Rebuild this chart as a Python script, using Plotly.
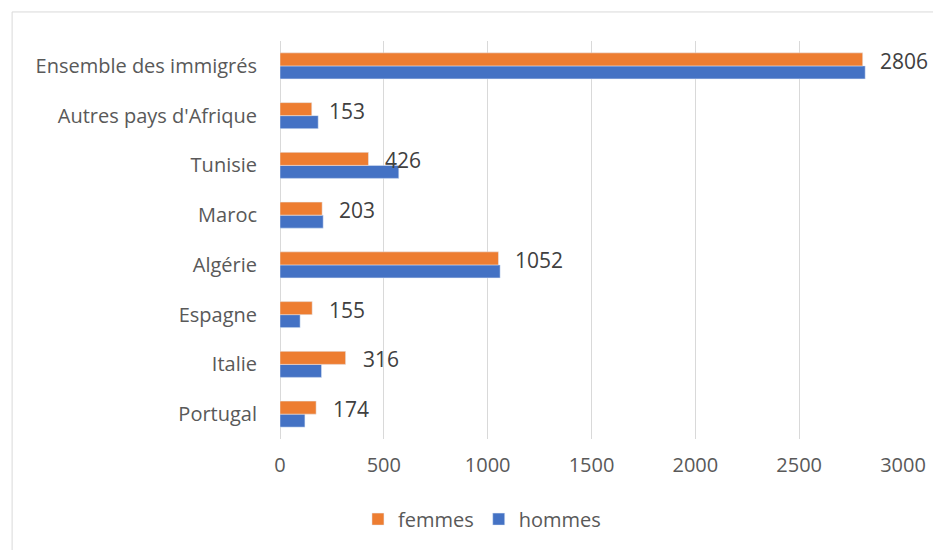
import plotly.graph_objects as go

categories = ["Portugal", "Italie", "Espagne", "Algérie", "Maroc", "Tunisie",
              "Autres pays d'Afrique", "Ensemble des immigrés"]
femmes = [174, 316, 155, 1052, 203, 426, 153, 2806]
hommes = [120, 200, 97, 1060, 208, 572, 184, 2818]

FONT = "Open Sans"

fig = go.Figure()
fig.add_trace(go.Bar(name="hommes", y=categories, x=hommes, orientation="h",
                     marker_color="#4472C4", legendrank=2))
fig.add_trace(go.Bar(name="femmes", y=categories, x=femmes, orientation="h",
                     marker_color="#ED7D31", legendrank=1))

# value labels on the femmes bars
for cat, val in zip(categories, femmes):
    fig.add_annotation(x=val, y=cat, text=str(val), showarrow=False,
                       xanchor="left", yanchor="middle", xshift=15, yshift=5,
                       font=dict(family=FONT, size=21, color="#404040"))

# light chart border
fig.add_shape(type="rect", xref="paper", yref="paper",
              x0=-0.43, x1=1.1, y0=-0.4, y1=1.073,
              line=dict(color="#d9d9d9", width=1), layer="below")

fig.update_layout(
    width=933, height=542,
    margin=dict(l=272, r=38, t=33, b=111),
    barmode="group", bargap=0.477, bargroupgap=0,
    plot_bgcolor="white", paper_bgcolor="white",
    font=dict(family=FONT, size=20, color="#595959"),
    showlegend=True,
    legend=dict(orientation="h", xref="container", yref="container",
                x=0.508, y=0.057, xanchor="center", yanchor="middle",
                font=dict(family=FONT, size=20, color="#595959"),
                itemwidth=30, traceorder="normal"),
    xaxis=dict(range=[0, 3000], dtick=500, showgrid=True, gridcolor="#d9d9d9",
               zeroline=True, zerolinecolor="#d9d9d9", zerolinewidth=1,
               ticklabelstandoff=12, tickfont=dict(size=20), fixedrange=True),
    yaxis=dict(showgrid=False, ticklabelstandoff=22, tickfont=dict(size=20),
               showline=False, fixedrange=True),
)

fig.write_html("out.html")
